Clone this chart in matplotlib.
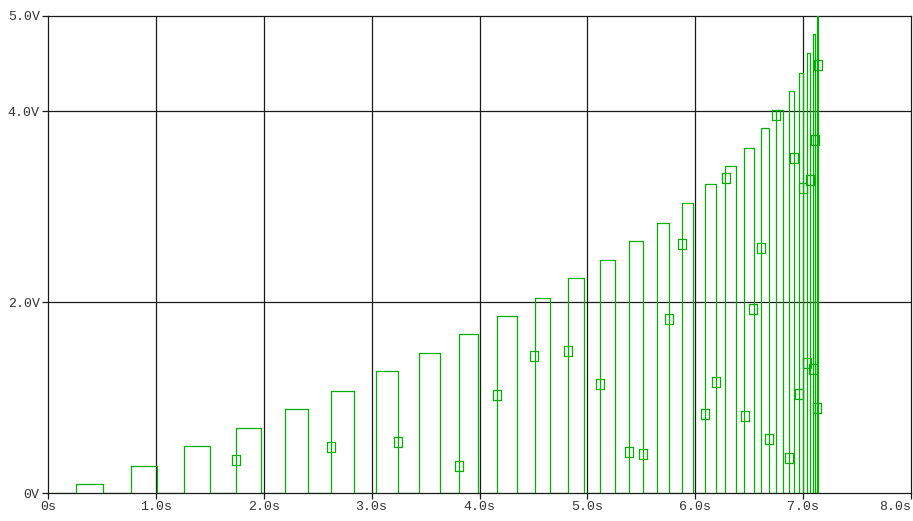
import numpy as np
import matplotlib
matplotlib.use("Agg")
import matplotlib.pyplot as plt
from matplotlib.path import Path as MPath

# pulse train (seconds, volts)
pulse_start = [0.26, 0.77, 1.26, 1.74, 2.20, 2.62, 3.04, 3.44, 3.81, 4.16,
               4.51, 4.82, 5.12, 5.39, 5.65, 5.88, 6.09, 6.28, 6.45, 6.61,
               6.75, 6.87, 6.96, 7.04, 7.09, 7.13]
pulse_end = [0.51, 1.01, 1.50, 1.97, 2.41, 2.84, 3.24, 3.63, 3.99, 4.35,
             4.65, 4.97, 5.26, 5.52, 5.76, 5.98, 6.19, 6.38, 6.54, 6.68,
             6.81, 6.92, 7.00, 7.06, 7.11, 7.14]
pulse_height = [0.094, 0.283, 0.493, 0.681, 0.881, 1.069, 1.279, 1.468, 1.667, 1.855,
                2.044, 2.254, 2.442, 2.642, 2.830, 3.040, 3.239, 3.428, 3.616, 3.826,
                4.015, 4.214, 4.403, 4.612, 4.811, 5.2]

# trace markers
marker_t = [1.743, 2.623, 3.245, 3.81, 4.16, 4.505, 4.82, 5.117, 5.386, 5.516,
            5.757, 5.877, 6.09, 6.19, 6.285, 6.461, 6.535, 6.61, 6.684, 6.749,
            6.869, 6.915, 6.962, 6.999, 7.036, 7.063, 7.091, 7.110, 7.138, 7.129]
marker_v = [0.346, 0.482, 0.535, 0.283, 1.027, 1.436, 1.488, 1.143, 0.430, 0.409,
            1.824, 2.610, 0.828, 1.164, 3.302, 0.807, 1.929, 2.568, 0.566, 3.962,
            0.367, 3.512, 1.038, 3.197, 1.363, 3.281, 1.300, 3.700, 4.486, 0.891]

x_ticks = [0, 1, 2, 3, 4, 5, 6, 7, 8]
x_labels = ["0s", "1.0s", "2.0s", "3.0s", "4.0s", "5.0s", "6.0s", "7.0s", "8.0s"]
y_ticks = [0, 2, 4, 5]
y_labels = ["0V", "2.0V", "4.0V", "5.0V"]

GREEN = "#00b000"

t = [0.0]
v = [0.0]
for s, e, h in zip(pulse_start, pulse_end, pulse_height):
    t += [s, s, e, e]
    v += [0.0, h, h, 0.0]

fig = plt.figure(figsize=(9.13, 5.21), dpi=100)
ax = fig.add_axes([48 / 913, 1 - 493 / 521, (911 - 48) / 913, (493 - 16) / 521])

ax.plot(t, v, color=GREEN, linewidth=0.9, zorder=3, clip_on=True)

box = MPath([(-0.4, -0.5), (0.4, -0.5), (0.4, 0.5), (-0.4, 0.5), (-0.4, -0.5)],
            [MPath.MOVETO, MPath.LINETO, MPath.LINETO, MPath.LINETO, MPath.CLOSEPOLY])
ax.plot(marker_t, marker_v, linestyle="none", marker=box, markersize=7,
        markerfacecolor="none", markeredgecolor=GREEN, markeredgewidth=0.9, zorder=4)

ax.set_xlim(0, 8)
ax.set_ylim(0, 5)
ax.set_xticks(x_ticks)
ax.set_xticklabels(x_labels)
ax.set_yticks(y_ticks)
ax.set_yticklabels(y_labels)

for x in x_ticks[1:-1]:
    ax.axvline(x, color="#1a1a1a", linewidth=0.9, zorder=1)
for y in [2, 4]:
    ax.axhline(y, color="#1a1a1a", linewidth=0.9, zorder=1)

for sp in ax.spines.values():
    sp.set_color("#1a1a1a")
    sp.set_linewidth(0.9)

ax.tick_params(axis="both", direction="out", length=4, width=0.9, color="#1a1a1a",
               labelsize=9.5, labelcolor="#333333", pad=2)
for lab in ax.get_xticklabels() + ax.get_yticklabels():
    lab.set_family(["Liberation Mono", "DejaVu Sans Mono"])
# last x label sits left of its tick so it stays inside the picture
ax.get_xticklabels()[-1].set_horizontalalignment("right")

fig.savefig("out.png", dpi=100)
